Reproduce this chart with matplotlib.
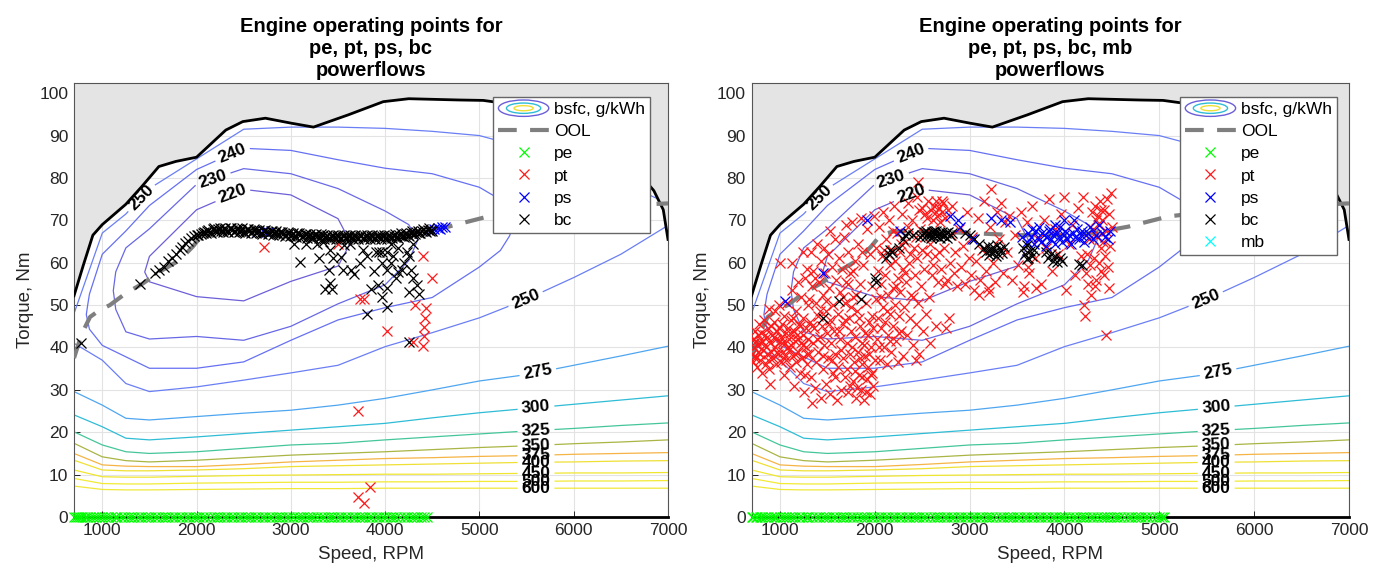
import numpy as np
import matplotlib
matplotlib.use("Agg")
import matplotlib.pyplot as plt
from matplotlib.lines import Line2D
from matplotlib.patches import Ellipse
from matplotlib.legend_handler import HandlerBase

plt.rcParams['font.family'] = ['Liberation Sans', 'DejaVu Sans']

# ---------------- BSFC map (iso-line table: torque at which each bsfc value occurs, per speed) -------------
map_speed = [700, 1000, 1250, 1500, 2000, 2500, 3000, 3500, 4000, 4500, 5000, 5500, 6000, 6500, 7000]
bsfc_levels = [220, 230, 240, 250, 275, 300, 325, 350, 375, 400, 450, 500, 600]

t_zero = [0.0] * 15
t600 = [7.3, 6.5, 6.4, 6.4, 6.5, 6.6, 6.7, 6.7, 6.8, 6.8, 6.8, 6.8, 6.8, 6.8, 6.8]
t500 = [9.1, 7.9, 7.8, 7.8, 8.0, 8.1, 8.2, 8.2, 8.3, 8.3, 8.4, 8.4, 8.5, 8.5, 8.6]
t450 = [11.1, 9.5, 9.4, 9.4, 9.6, 9.8, 9.9, 10.0, 10.1, 10.1, 10.2, 10.3, 10.4, 10.4, 10.5]
t400 = [13.4, 11.1, 10.9, 10.9, 11.1, 11.4, 11.9, 12.1, 12.3, 12.5, 12.7, 12.9, 13.0, 13.2, 13.3]
t375 = [15.0, 12.3, 12.0, 11.9, 11.9, 12.4, 13.0, 13.4, 13.8, 14.0, 14.3, 14.5, 14.8, 15.0, 15.2]
t350 = [17.4, 14.2, 13.3, 13.0, 13.4, 14.0, 14.6, 15.0, 15.4, 15.9, 16.4, 16.8, 17.3, 17.7, 18.2]
t325 = [20.1, 17.0, 15.4, 15.0, 15.4, 16.2, 17.0, 17.4, 18.2, 18.9, 19.6, 20.3, 20.9, 21.6, 22.2]
t300 = [24.1, 21.3, 18.6, 18.2, 18.9, 19.7, 20.5, 21.3, 22.1, 23.4, 24.6, 25.6, 26.6, 27.6, 28.6]
t275 = [29.6, 26.4, 23.3, 22.9, 23.7, 24.5, 25.2, 26.4, 28.0, 30.0, 32.1, 33.6, 35.8, 38.0, 40.3]
t250_low = [41.0, 37.0, 31.5, 29.6, 30.7, 32.3, 34.0, 35.8, 40.2, 43.5, 47.0, 51.4, 56.5, 62.0, 68.8]
t240_low = [42.5, 40.5, 37.8, 35.1, 35.1, 36.6, 41.7, 46.5, 49.4, 51.8, 59.0, 60.0, 62.0, 65.0, 69.5]
z240_low = [247, 240, 240, 240, 240, 240, 240, 240, 240, 240, 240, 243.5, 247.5, 249.3, 249.8]
t230_low = [43.5, 45.0, 43.7, 42.0, 42.6, 41.7, 45.0, 50.3, 54.8, 58.0, 62.0, 64.0, 65.0, 67.0, 70.0]
z230_low = [246, 235, 230, 230, 230, 230, 230, 230, 230, 234.5, 238, 242.5, 247, 249, 249.7]
t220_low = [44.0, 49.0, 49.0, 55.5, 52.0, 51.0, 55.6, 59.2, 59.0, 62.0, 65.0, 67.0, 68.0, 69.0, 70.5]
z220_low = [245.5, 234, 227, 220, 220, 220, 220, 220, 227, 233, 236.5, 242, 246.5, 248.8, 249.6]
t_min = [44.5, 52.0, 55.0, 58.5, 62.0, 64.0, 66.0, 65.0, 64.0, 66.0, 68.0, 70.0, 71.0, 71.0, 71.0]
z_min = [245, 233.5, 226, 218.5, 214, 213, 215, 218, 225.5, 232, 235.5, 241.5, 246, 248.6, 249.5]
t220_up = [45.0, 55.0, 60.0, 61.5, 72.5, 77.3, 76.0, 70.4, 68.0, 70.0, 71.0, 73.0, 74.0, 73.0, 71.5]
t230_up = [45.5, 58.5, 63.5, 68.0, 78.5, 82.2, 81.0, 77.5, 72.2, 74.0, 74.0, 76.0, 77.0, 75.0, 72.0]
t240_up = [46.5, 62.0, 67.5, 73.5, 82.0, 87.0, 86.5, 84.3, 82.3, 81.0, 77.8, 79.0, 80.0, 77.0, 72.5]
t250_up = [48.0, 67.0, 71.5, 77.5, 84.5, 91.5, 92.0, 92.0, 91.7, 91.0, 90.0, 87.0, 83.0, 79.0, 74.0]
t_top = [105.0] * 15

# wide open throttle torque curve
wot_speed = [700, 800, 900, 1000, 1250, 1420, 1600, 1780, 2000, 2150, 2310, 2490, 2730, 3010, 3240,
             3610, 3980, 4250, 4780, 5040, 5400, 5700, 6000, 6300, 6600, 6850, 6950, 7000]
wot_torque = [52.2, 59.5, 66.5, 69.0, 73.8, 78.0, 82.7, 83.9, 84.9, 88.0, 91.3, 93.3, 94.1, 92.9, 92.0,
              94.9, 98.0, 98.7, 98.4, 98.3, 97.2, 95.5, 93.0, 89.0, 83.5, 77.0, 72.5, 65.5]
# optimal operating line
ool_speed = [700, 750, 800, 870, 970, 1080, 1250, 1430, 1610, 1820, 1960, 2060, 2200, 2500, 3000,
             3500, 4000, 4300, 4670, 5090, 5500, 6000, 6500, 7000]
ool_torque = [37.5, 41.0, 44.0, 47.2, 48.8, 50.0, 52.8, 55.1, 57.9, 60.6, 63.8, 66.5, 67.4, 67.5, 67.0,
              66.5, 66.5, 67.0, 68.5, 70.9, 72.0, 73.0, 73.5, 74.0]

# ---------------- operating points ----------------
pe_speed_left = [700, 720, 745, 760, 790, 815, 840, 870, 905, 935, 960, 1000, 1030, 1060, 1095, 1130, 1160,
                 1200, 1235, 1270, 1300, 1340, 1375, 1410, 1450, 1480, 1520, 1555, 1590, 1630, 1665, 1700,
                 1740, 1775, 1810, 1850, 1885, 1920, 1960, 1995, 2030, 2070, 2105, 2140, 2180, 2215, 2250,
                 2290, 2325, 2360, 2400, 2435, 2470, 2510, 2545, 2580, 2620, 2655, 2690, 2730, 2765, 2800,
                 2840, 2875, 2910, 2950, 2985, 3020, 3060, 3095, 3130, 3170, 3205, 3240, 3280, 3315, 3350,
                 3390, 3425, 3460, 3500, 3535, 3570, 3610, 3645, 3680, 3720, 3755, 3790, 3830, 3865, 3900,
                 3940, 3975, 4010, 4050, 4085, 4120, 4160, 4195, 4230, 4270, 4305, 4340, 4380, 4415, 4445]
pe_speed_right = pe_speed_left + [4480, 4520, 4555, 4590, 4630, 4665, 4700, 4740, 4775, 4810, 4850,
                                  4885, 4920, 4960, 4995, 5030, 5050]

pt_left = [(2713, 63.6), (3495, 64.5), (3737, 51.5), (3774, 51.5), (4017, 44.0), (4399, 61.5),
           (4496, 56.4), (4319, 50.0), (4436, 49.4), (4422, 47.0), (4413, 44.8), (4413, 42.7),
           (4399, 40.4), (4296, 41.4), (3714, 25.1), (3714, 4.8), (3774, 3.3), (3844, 7.2)]

ps_left = [(4520, 67.9), (4560, 68.2), (4600, 68.5), (4630, 68.4), (4580, 68.0), (4490, 67.7),
           (2640, 67.3), (2700, 67.5), (2760, 67.2)]

bc_left = [(772, 41.0), (1400, 55.0), (1560, 57.5), (1600, 58.3), (1650, 59.0), (1700, 60.3), (1740, 61.2),
           (1780, 62.0), (1820, 63.0), (1850, 63.8), (1880, 64.6), (1910, 65.2), (1940, 65.8), (1970, 66.3),
           (2000, 66.6), (2020, 66.5),
           (3030, 64.5), (3095, 60.2), (3165, 64.5), (3272, 64.5), (3295, 61.0), (3411, 63.0), (3402, 58.3),
           (3450, 61.0), (3528, 61.3), (3551, 58.3), (3630, 64.5), (3635, 58.3), (3668, 57.4), (3737, 60.0),
           (3760, 63.0), (3807, 61.7), (3877, 58.1), (3900, 62.6), (3933, 62.6), (3970, 62.6), (4017, 62.6),
           (3970, 60.0), (4017, 58.3), (4064, 60.0), (4087, 61.7), (4133, 63.5), (4133, 57.8), (4180, 58.3),
           (4203, 60.0), (4227, 62.6), (4250, 61.7), (4273, 58.3), (4296, 56.5), (4343, 54.8), (4357, 52.6),
           (4250, 53.0), (4110, 56.5), (4017, 54.0), (3970, 51.8), (4017, 49.6), (3807, 48.0), (3924, 54.8),
           (3854, 53.9), (3365, 53.9), (3411, 55.2), (3435, 53.9), (4250, 41.4), (4060, 64.5), (4300, 64.5),
           (3560, 64.3), (3340, 64.8)]
# dense band of bc points along the operating line (left panel)
bc_band_left = [
    (2050, 66.8), (2065, 66.9), (2080, 67.3), (2095, 67.0), (2110, 67.6), (2125, 67.8), (2140, 67.2),
    (2155, 67.0), (2170, 67.9), (2185, 68.2), (2200, 67.5), (2215, 67.2), (2230, 68.0), (2245, 68.3),
    (2260, 67.6), (2275, 67.3), (2290, 67.9), (2305, 68.2), (2320, 67.4), (2335, 67.2), (2350, 68.1),
    (2365, 68.3), (2380, 67.7), (2395, 67.3), (2410, 67.5), (2425, 68.2), (2440, 68.0), (2455, 67.3),
    (2470, 67.6), (2485, 68.1), (2500, 67.3), (2515, 67.1), (2530, 67.9), (2545, 68.0), (2560, 67.5),
    (2575, 67.0), (2590, 67.2), (2605, 67.9), (2620, 67.8), (2635, 67.0), (2650, 67.4), (2665, 67.8),
    (2680, 67.1), (2695, 66.8), (2710, 67.6), (2725, 67.7), (2740, 67.2), (2755, 66.7), (2770, 66.9),
    (2785, 67.6), (2800, 67.4), (2815, 66.6), (2830, 67.0), (2845, 67.4), (2860, 66.7), (2875, 66.5),
    (2890, 67.2), (2905, 67.3), (2920, 66.8), (2935, 66.3), (2950, 66.5), (2965, 67.2), (2980, 67.0),
    (2995, 66.2), (3010, 66.6), (3025, 67.0), (3040, 66.4), (3055, 66.1), (3070, 66.9), (3085, 66.9),
    (3100, 66.5), (3115, 66.0), (3130, 66.2), (3145, 66.8), (3160, 66.7), (3175, 65.9), (3190, 66.3),
    (3205, 66.8), (3220, 66.1), (3235, 65.8), (3250, 66.6), (3265, 66.7), (3280, 66.2), (3295, 65.8),
    (3310, 66.0), (3325, 66.7), (3340, 66.5), (3355, 65.7), (3370, 66.1), (3385, 66.6), (3400, 65.9),
    (3415, 65.7), (3430, 66.4), (3445, 66.6), (3460, 66.0), (3475, 65.7), (3490, 66.3), (3505, 66.6),
    (3520, 65.9), (3535, 65.7), (3550, 66.4), (3565, 66.6), (3580, 66.0), (3595, 65.7), (3610, 66.3),
    (3625, 66.6), (3640, 65.9), (3655, 65.7), (3670, 66.4), (3685, 66.6), (3700, 66.0), (3715, 65.7),
    (3730, 66.3), (3745, 66.6), (3760, 65.9), (3775, 65.7), (3790, 66.4), (3805, 66.6), (3820, 66.0),
    (3835, 65.7), (3850, 66.3), (3865, 66.6), (3880, 65.9), (3895, 65.7), (3910, 66.4), (3925, 66.6),
    (3940, 66.0), (3955, 65.7), (3970, 66.3), (3985, 66.6), (4000, 65.9), (4015, 65.7), (4030, 66.4),
    (4045, 66.6), (4060, 66.0), (4075, 65.8), (4090, 66.4), (4105, 66.8), (4120, 66.1), (4135, 65.9),
    (4150, 66.6), (4165, 66.9), (4180, 66.3), (4195, 66.1), (4210, 66.8), (4225, 67.1), (4240, 66.5),
    (4255, 66.4), (4270, 67.0), (4285, 67.4), (4300, 66.8), (4315, 66.7), (4330, 67.3), (4345, 67.6),
    (4360, 67.1), (4375, 67.0), (4390, 67.5), (4405, 67.9), (4420, 67.4), (4435, 67.3), (4450, 67.8),
    (4465, 68.1), (4480, 67.6), (4495, 67.6)]

pt_right = [
    (705, 38.5), (712, 42.0), (718, 36.5), (725, 40.0), (733, 44.0), (740, 38.0), (748, 41.5), (755, 35.5),
    (763, 43.0), (770, 39.0), (778, 45.5), (785, 37.0), (795, 41.0), (805, 43.5), (812, 34.0), (820, 39.5),
    (830, 46.5), (840, 40.5), (850, 36.0), (858, 42.5), (866, 38.5), (875, 44.5), (885, 35.0), (893, 41.0),
    (900, 31.5), (910, 39.0), (918, 43.0), (928, 37.5), (935, 46.0), (945, 40.0), (955, 42.0), (962, 36.0),
    (970, 44.0), (980, 38.5), (990, 50.0), (998, 41.5), (1000, 60.0), (950, 48.5), (880, 49.0),
    (1008, 36.5), (1015, 42.5), (1022, 45.5), (1030, 39.0), (1038, 33.5), (1045, 47.5), (1052, 41.0),
    (1060, 43.5), (1068, 37.0), (1075, 50.5), (1082, 44.5), (1090, 39.5), (1098, 42.0), (1105, 35.5),
    (1112, 46.5), (1120, 40.5), (1128, 53.5), (1135, 38.0), (1143, 44.0), (1150, 31.0), (1158, 41.5),
    (1165, 48.5), (1172, 36.5), (1180, 43.0), (1188, 39.0), (1195, 55.5), (1203, 45.5), (1210, 34.0),
    (1218, 41.0), (1225, 52.0), (1233, 37.5), (1240, 47.0), (1248, 43.0), (1255, 29.5), (1262, 56.5),
    (1270, 40.0), (1278, 44.5), (1285, 36.0), (1292, 50.0), (1300, 42.0), (1130, 60.0), (1240, 62.5),
    (1280, 58.5),
    (1308, 38.5), (1315, 46.0), (1322, 62.5), (1330, 33.0), (1338, 54.5), (1345, 41.0), (1352, 58.0),
    (1360, 44.5), (1368, 30.5), (1375, 50.5), (1382, 36.5), (1390, 64.5), (1398, 47.5), (1405, 39.0),
    (1412, 55.5), (1420, 42.5), (1428, 28.0), (1435, 60.5), (1442, 45.0), (1450, 35.0), (1458, 52.5),
    (1465, 40.5), (1472, 57.5), (1480, 31.5), (1488, 48.5), (1495, 43.5), (1502, 62.0), (1510, 37.5),
    (1518, 54.0), (1525, 29.0), (1532, 46.5), (1540, 41.0), (1548, 59.0), (1555, 34.0), (1562, 50.0),
    (1570, 44.0), (1578, 65.5), (1585, 38.5), (1592, 56.0), (1600, 27.5), (1340, 27.0), (1460, 63.5),
    (1530, 67.5),
    (1608, 48.0), (1615, 35.5), (1622, 61.0), (1630, 42.0), (1638, 53.0), (1645, 30.0), (1652, 58.5),
    (1660, 45.5), (1668, 37.5), (1675, 66.0), (1682, 50.5), (1690, 33.0), (1698, 55.5), (1705, 41.0),
    (1712, 62.5), (1720, 29.5), (1728, 47.0), (1735, 38.5), (1742, 57.5), (1750, 44.0), (1758, 69.5),
    (1765, 32.0), (1772, 52.0), (1780, 36.5), (1788, 60.5), (1795, 42.5), (1802, 28.0), (1810, 48.5),
    (1818, 39.0), (1825, 64.5), (1832, 33.5), (1840, 45.0), (1848, 55.0), (1855, 30.0), (1862, 41.0),
    (1870, 36.0), (1878, 59.5), (1885, 27.5), (1892, 43.5), (1900, 38.0), (1908, 50.5), (1915, 32.5),
    (1922, 68.0), (1930, 35.5), (1938, 46.0), (1945, 29.0), (1952, 62.0), (1960, 40.0), (1968, 54.5),
    (1975, 34.0), (1982, 44.5), (1990, 71.0), (1998, 37.0), (1850, 70.5), (1700, 69.0),
    (2008, 51.5), (2015, 63.5), (2022, 42.0), (2030, 58.0), (2038, 47.0), (2045, 68.5), (2052, 37.0),
    (2060, 55.0), (2068, 44.5), (2075, 61.5), (2082, 49.5), (2090, 72.0), (2098, 40.0), (2105, 57.0),
    (2112, 46.0), (2120, 65.5), (2128, 36.0), (2135, 52.5), (2142, 43.0), (2150, 70.0), (2158, 59.5),
    (2165, 48.0), (2172, 39.0), (2180, 63.0), (2188, 54.0), (2195, 45.0), (2202, 73.5), (2210, 60.5),
    (2218, 50.0), (2225, 41.5), (2232, 67.0), (2240, 56.5), (2248, 36.5), (2255, 47.5), (2262, 62.5),
    (2270, 53.0), (2278, 44.0), (2285, 71.5), (2292, 58.5), (2300, 38.0),
    (2310, 49.5), (2320, 65.0), (2330, 55.5), (2340, 43.0), (2350, 74.0), (2360, 60.0), (2370, 47.0),
    (2380, 52.5), (2390, 70.0), (2400, 40.5), (2410, 63.5), (2420, 57.0), (2430, 45.5), (2440, 75.5),
    (2450, 61.0), (2460, 50.5), (2470, 38.5), (2480, 68.0), (2490, 54.5), (2500, 73.0), (2510, 44.0),
    (2520, 58.5), (2530, 71.5), (2540, 48.0), (2550, 62.0), (2560, 74.5), (2570, 52.0), (2580, 41.0),
    (2590, 72.5), (2600, 57.0), (2455, 79.0), (2430, 37.0),
    (2610, 70.0), (2620, 73.5), (2630, 61.5), (2640, 74.5), (2650, 45.0), (2660, 71.0), (2670, 55.5),
    (2680, 73.0), (2690, 69.5), (2700, 58.5), (2710, 72.0), (2720, 74.0), (2730, 63.5), (2740, 70.5),
    (2750, 44.5), (2760, 56.0), (2770, 72.5), (2780, 47.0), (2790, 60.0), (2800, 66.5),
    (2810, 73.5), (2830, 57.5), (2850, 62.5), (2870, 54.5), (2890, 68.0), (2910, 59.0), (2930, 64.0),
    (2950, 55.0), (2970, 72.0), (2990, 61.0), (3010, 57.0), (3030, 66.0), (3050, 53.5), (3070, 60.5),
    (3090, 70.5), (3110, 56.0), (3130, 63.0), (3150, 74.5), (3170, 58.0), (3190, 54.0), (3210, 68.5),
    (3230, 77.5), (3250, 60.0), (3270, 55.5), (3290, 72.0), (3310, 65.5), (3330, 74.0), (3350, 57.5),
    (3370, 69.5), (3390, 62.5), (3100, 52.5), (3200, 53.0),
    (3420, 71.0), (3450, 56.0), (3480, 66.5), (3510, 59.5), (3540, 72.0), (3570, 54.5), (3600, 69.5),
    (3630, 57.5), (3660, 73.5), (3690, 61.0), (3720, 65.5), (3750, 55.0), (3780, 70.0), (3810, 63.5),
    (3840, 75.0), (3870, 58.0), (3900, 68.0), (3930, 62.0), (3960, 71.5), (3990, 75.5), (4020, 53.5),
    (4050, 64.5), (4080, 69.0), (4110, 57.0), (4140, 73.0), (4170, 61.5), (4200, 75.5), (3620, 59.0),
    (3560, 53.0), (3700, 54.0),
    (4210, 50.0), (4220, 47.5), (4230, 57.5), (4240, 62.0), (4250, 55.0), (4260, 65.5), (4270, 59.5),
    (4280, 52.5), (4290, 72.0), (4300, 68.0), (4310, 61.0), (4320, 73.5), (4330, 56.0), (4340, 66.0),
    (4350, 71.0), (4360, 60.0), (4370, 74.5), (4380, 63.5), (4390, 58.0), (4400, 70.0), (4410, 65.0),
    (4420, 72.5), (4430, 61.5), (4440, 67.5), (4450, 75.0), (4460, 59.0), (4470, 71.5), (4480, 64.0),
    (4490, 76.5), (4500, 68.5), (4440, 43.0), (4470, 54.0), (4360, 69.0), (4330, 70.0), (4380, 72.5),
    (4400, 67.0), (4320, 54.5), (4420, 57.0),
    # extra density in the low-speed cloud
    (1710, 35.0), (1735, 31.0), (1760, 40.0), (1790, 34.5), (1815, 30.5), (1840, 37.5), (1865, 33.0),
    (1890, 40.5), (1905, 29.5), (1925, 43.0), (1940, 38.5), (1955, 33.5), (1970, 47.5), (1985, 31.0),
    (1620, 44.0), (1640, 39.5), (1665, 52.0), (1685, 46.5), (1715, 55.0), (1745, 49.5), (1775, 58.0),
    (1805, 52.5), (1835, 47.0), (1860, 62.5), (1575, 33.0), (1545, 37.0), (1515, 45.5), (1490, 51.0),
    (1455, 38.0), (1425, 48.5), (1395, 42.0), (1370, 56.5), (1335, 45.0), (1310, 51.5), (1290, 38.5),
    (1265, 33.5), (1245, 40.5), (1215, 45.0), (1190, 42.0), (1160, 38.5), (1140, 47.0), (1110, 43.5),
    (1085, 40.0), (1055, 38.0), (1025, 41.0), (990, 44.5), (965, 39.0), (940, 42.5), (905, 45.0),
    (870, 37.0), (845, 43.0), (815, 41.5), (790, 38.5), (760, 40.5), (735, 37.5), (2040, 40.0),
    (2070, 52.0), (2100, 63.0), (2130, 48.5), (2160, 41.5), (2190, 67.5), (2220, 54.5), (2250, 43.5),
    (2280, 64.5), (2315, 57.5), (2345, 68.5), (2375, 62.0), (2405, 52.0), (2435, 66.0), (2465, 72.5),
    (2495, 63.0), (2525, 67.0), (2555, 70.5), (2585, 64.5), (2615, 59.5), (2645, 72.0), (2675, 62.5),
    (2705, 74.5), (2735, 55.0)]

ps_right = [(3550, 66.0), (3600, 65.0), (3620, 67.0), (3650, 66.0), (3680, 64.5), (3700, 67.5), (3720, 66.0),
            (3750, 65.0), (3760, 67.0), (3780, 66.5), (3800, 64.0), (3820, 66.0), (3840, 67.5), (3860, 65.5),
            (3880, 66.5), (3900, 64.5), (3920, 67.0), (3940, 66.0), (3950, 68.5), (3970, 65.0), (3990, 66.5),
            (4010, 67.5), (4030, 65.5), (4050, 66.5), (4070, 64.5), (4090, 67.0), (4110, 66.0), (4130, 68.0),
            (4150, 65.5), (4170, 66.5), (4190, 67.5), (4210, 65.0), (4230, 66.5), (4250, 67.0), (4270, 68.5),
            (4300, 65.5), (4330, 66.5), (4360, 69.0), (4400, 67.0), (4430, 66.0), (4460, 65.5), (4480, 67.5),
            (3900, 69.0), (3730, 68.5), (3850, 68.0), (3660, 68.0), (2790, 71.0), (2880, 70.0), (3230, 70.5),
            (3330, 70.0), (3430, 69.5), (1050, 51.0), (1450, 57.5), (1920, 70.0), (2270, 67.5), (3030, 65.5),
            (2900, 68.5), (4100, 70.0), (4000, 70.0)]

bc_right = [(2500, 66.5), (2520, 67.2), (2540, 66.3), (2560, 67.0), (2580, 66.6), (2600, 67.3), (2610, 66.2),
            (2630, 66.8), (2650, 67.4), (2660, 66.4), (2680, 67.0), (2700, 66.6), (2710, 67.3), (2730, 66.3),
            (2750, 66.9), (2770, 67.2), (2790, 66.5), (2810, 66.9), (2540, 67.5), (2590, 65.9), (2690, 65.8),
            (2760, 65.9), (2480, 66.0), (2620, 67.6),
            (3100, 64.5), (3150, 63.5), (3170, 62.5), (3190, 64.0), (3210, 63.0), (3230, 62.2), (3250, 63.6),
            (3270, 62.8), (3290, 64.2), (3300, 62.0), (3320, 63.2), (3340, 62.4), (3360, 63.8), (3200, 61.8),
            (3280, 61.5), (3050, 65.5), (3000, 66.5),
            (3560, 63.5), (3580, 62.0), (3600, 64.2), (3620, 61.2), (3640, 62.8), (3660, 61.5), (3680, 63.0),
            (3600, 60.8), (3800, 62.5), (3830, 61.0), (3860, 62.0), (3880, 60.5), (3900, 61.5), (3920, 60.2),
            (3950, 61.0), (3970, 60.5), (4150, 59.8), (4180, 59.5),
            (1450, 47.0), (1620, 51.0), (1850, 51.5), (2000, 56.5), (2010, 55.5), (2150, 62.0), (2160, 63.0),
            (2180, 62.5), (2300, 65.5), (2320, 66.5), (2350, 67.0), (2400, 66.5), (2250, 63.5), (2120, 61.0),
            (2950, 67.0)]

# ---------------- styling tables ----------------
level_colors = ['#6c5fd8', '#6868e6', '#6670f2', '#6a7ff5', '#4fa6f0', '#2fbcd6', '#45c69a', '#aab544',
                '#f5b445', '#efe035', '#f0e630', '#f2ea35', '#f0e838']
label_pos = [(1410, 75.4), (2370, 86.3), (2170, 80.0), (2380, 76.3), (5480, 52.0), (5620, 34.1),
             (5600, 25.8), (5600, 20.4), (5600, 16.9), (5600, 14.6), (5600, 12.9), (5600, 10.3),
             (5600, 8.4), (5600, 6.8)]

T_rows = [t_zero, t600, t500, t450, t400, t375, t350, t325, t300, t275, t250_low, t240_low, t230_low,
          t220_low, t_min, t220_up, t230_up, t240_up, t250_up, t_top]
Z_rows = [[900] * 15, [600] * 15, [500] * 15, [450] * 15, [400] * 15, [375] * 15, [350] * 15, [325] * 15,
          [300] * 15, [275] * 15, [250] * 15, z240_low, z230_low, z220_low, z_min, z220_low, z230_low,
          z240_low, [250] * 15, [262] * 15]


class BsfcProxy:
    pass


class HandlerBsfc(HandlerBase):
    def create_artists(self, legend, orig_handle, xdescent, ydescent, width, height, fontsize, trans):
        cx = -xdescent + width / 2.0
        cy = -ydescent + height / 2.0
        arts = []
        for fw, fh, c in [(1.0, 1.35, '#6a5fd8'), (0.68, 0.85, '#2fbcd6'), (0.38, 0.42, '#efe035')]:
            e = Ellipse((cx, cy), width * fw, height * fh, fill=False, edgecolor=c, lw=1.0, transform=trans)
            arts.append(e)
        return arts


def xy(points):
    return [p[0] for p in points], [p[1] for p in points]


def draw_panel(ax, title, pe_speed, pt_pts, ps_pts, bc_pts, with_mb, leg_anchor):
    X = np.tile(np.array(map_speed, float), (len(T_rows), 1))
    Y = np.array(T_rows, float)
    Z = np.array(Z_rows, float)
    cs = ax.contour(X, Y, Z, levels=bsfc_levels, colors=level_colors, linewidths=0.9, zorder=1.5)

    old_w = plt.rcParams['font.weight']
    plt.rcParams['font.weight'] = 'bold'
    texts = ax.clabel(cs, levels=bsfc_levels, manual=label_pos, inline=True, fontsize=12.5,
                      colors='k', inline_spacing=4)
    plt.rcParams['font.weight'] = old_w
    for t in texts:
        t.set_fontweight('bold')
        t.set_zorder(7)

    ax.fill_between(wot_speed, wot_torque, 102.4, color='#e4e4e4', zorder=2, lw=0)
    ax.plot(wot_speed, wot_torque, color='k', lw=2.0, zorder=3)
    ax.plot([700, 7000], [0, 0], color='k', lw=2.0, zorder=3, clip_on=False)
    ax.plot(ool_speed, ool_torque, color='#7f7f7f', lw=3.0, ls=(0, (4.5, 3.2)), zorder=4)

    mk = dict(ls='none', marker='x', ms=6.5, mew=0.9, zorder=5)
    ax.plot(pe_speed, [0] * len(pe_speed), color='#00ff00', clip_on=False, **mk)
    ax.plot(*xy(pt_pts), color='#ff1a1a', **mk)
    ax.plot(*xy(ps_pts), color='#0000ff', **mk)
    ax.plot(*xy(bc_pts), color='#000000', **mk)

    ax.set_xlim(700, 7000)
    ax.set_ylim(0, 102.4)
    ax.set_xticks(range(1000, 7001, 1000))
    ax.set_yticks(range(0, 101, 10))
    ax.grid(True, color='#e3e3e3', lw=0.8)
    ax.set_axisbelow(True)
    for s in ax.spines.values():
        s.set_color('#555555')
        s.set_linewidth(0.8)
    ax.tick_params(direction='in', length=4, width=0.7, colors='#262626', labelsize=12.5, pad=4,
                   top=False, right=False)
    ax.set_xlabel('Speed, RPM', fontsize=13.5, color='#262626', labelpad=6)
    ax.set_ylabel('Torque, Nm', fontsize=13.5, color='#262626', labelpad=4)
    ax.set_title(title, fontsize=14.5, fontweight='bold', linespacing=1.2, pad=5, color='k')

    mk_leg = dict(ls='none', marker='x', ms=7, mew=0.9)
    handles = [BsfcProxy(),
               Line2D([], [], color='#7f7f7f', lw=3.0, ls=(0, (4.5, 3.2))),
               Line2D([], [], color='#00ff00', **mk_leg),
               Line2D([], [], color='#ff1a1a', **mk_leg),
               Line2D([], [], color='#0000ff', **mk_leg),
               Line2D([], [], color='#000000', **mk_leg)]
    labels = ['bsfc, g/kWh', 'OOL', 'pe', 'pt', 'ps', 'bc']
    if with_mb:
        handles.append(Line2D([], [], color='#00ffff', **mk_leg))
        labels.append('mb')
    leg = ax.legend(handles, labels, handler_map={BsfcProxy: HandlerBsfc()}, loc='upper right',
                    bbox_to_anchor=leg_anchor, borderaxespad=0, fontsize=12.5, frameon=True,
                    fancybox=False, edgecolor='#666666', framealpha=1, handlelength=2.9,
                    handletextpad=0.3, labelspacing=0.4, borderpad=0.3, numpoints=1)
    leg.get_frame().set_linewidth(1.0)
    leg.set_zorder(10)


fig = plt.figure(figsize=(13.82, 5.73), dpi=100)
ax1 = fig.add_axes([0.05355, 0.0977, 0.4298, 0.7574])
ax2 = fig.add_axes([0.5438, 0.0977, 0.4323, 0.7574])

draw_panel(ax1, 'Engine operating points for\npe, pt, ps, bc\npowerflows', pe_speed_left,
           pt_left, ps_left, bc_left + bc_band_left, False, (0.970, 0.968))
draw_panel(ax2, 'Engine operating points for\npe, pt, ps, bc, mb\npowerflows', pe_speed_right,
           pt_right, ps_right, bc_right, True, (0.980, 0.968))

fig.savefig('out.png', dpi=100)
